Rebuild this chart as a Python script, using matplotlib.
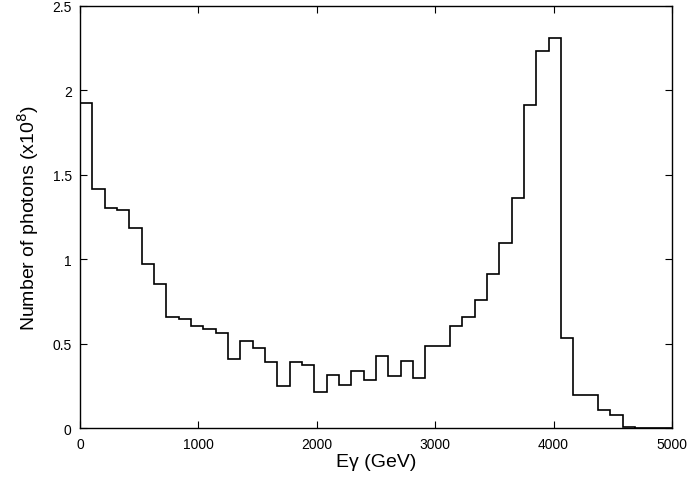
import numpy as np
import matplotlib
matplotlib.use("Agg")
import matplotlib.pyplot as plt

plt.rcParams['font.family'] = ['Liberation Sans', 'DejaVu Sans']

# Histogram: 48 bins from 0 to 5000 GeV
bin_lo = 0
bin_hi = 5000
n_bins = 48
counts = [1.923, 1.416, 1.305, 1.294, 1.185, 0.974, 0.856, 0.659, 0.647, 0.607,
          0.588, 0.566, 0.408, 0.518, 0.477, 0.390, 0.248, 0.390, 0.376, 0.217,
          0.317, 0.258, 0.339, 0.288, 0.428, 0.308, 0.400, 0.298, 0.489, 0.489,
          0.605, 0.657, 0.758, 0.915, 1.096, 1.364, 1.913, 2.231, 2.311, 0.536,
          0.199, 0.199, 0.108, 0.079, 0.010, 0.003, 0.0, 0.0]

xticks = [0, 1000, 2000, 3000, 4000, 5000]
yticks = [0, 0.5, 1, 1.5, 2, 2.5]
ytick_labels = ["0", "0.5", "1", "1.5", "2", "2.5"]

edges = np.linspace(bin_lo, bin_hi, n_bins + 1)

fig = plt.figure(figsize=(6.93, 4.81), dpi=100)
ax = fig.add_axes([0.1154, 0.1075, 0.8543, 0.8785])
ax.stairs(counts, edges, color='black', linewidth=1.2, baseline=0)
ax.set_xlim(0, 5000)
ax.set_ylim(0, 2.5)
ax.set_xticks(xticks)
ax.set_xticklabels([str(t) for t in xticks])
ax.set_yticks(yticks)
ax.set_yticklabels(ytick_labels)
ax.tick_params(direction='in', top=True, right=True, length=5, width=0.8,
               labelsize=10, pad=6, colors='black')
for s in ax.spines.values():
    s.set_linewidth(1.0)
ax.set_xlabel("Eγ (GeV)", fontsize=14, labelpad=2)
ax.set_ylabel("Number of photons (x10$^{8}$)", fontsize=14, labelpad=8)

fig.savefig("out.png", dpi=100)
